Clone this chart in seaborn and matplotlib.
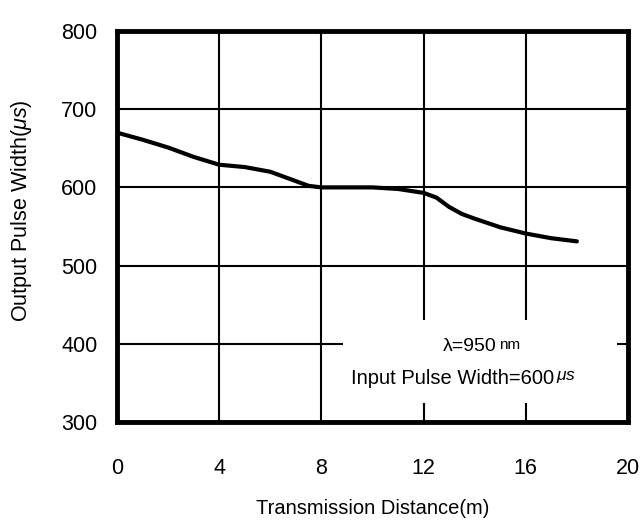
import matplotlib
matplotlib.use("Agg")
import matplotlib.pyplot as plt
from matplotlib.patches import Rectangle
import seaborn as sns
import pandas as pd

distance_m = [0, 1, 2, 3, 4, 5, 6, 7, 7.5, 8, 9, 10, 11, 12, 12.5, 13, 13.5, 14, 15, 16, 17, 18]
pulse_us = [670, 661, 651, 639, 629, 626, 620, 608, 602, 600, 600, 600, 598, 593, 587, 575, 566, 560, 549, 541, 535, 531]
x_ticks = [0, 4, 8, 12, 16, 20]
y_ticks = [300, 400, 500, 600, 700, 800]

df = pd.DataFrame({"d": distance_m, "w": pulse_us})

sns.set_style("white")
plt.rcParams["font.family"] = ["Liberation Sans", "DejaVu Sans"]
plt.rcParams["mathtext.fontset"] = "custom"
plt.rcParams["mathtext.it"] = "Liberation Sans:italic"
plt.rcParams["mathtext.rm"] = "Liberation Sans"

fig = plt.figure(figsize=(6.41, 5.27), dpi=100)
ax = fig.add_axes([117/641, 1 - 422/527, (628-117)/641, (422-31)/527])

sns.lineplot(data=df, x="d", y="w", ax=ax, color="black", linewidth=3)

ax.set_xlim(0, 20)
ax.set_ylim(300, 800)
ax.set_xticks(x_ticks)
ax.set_yticks(y_ticks)
ax.grid(True, color="black", linewidth=1.5)
for s in ax.spines.values():
    s.set_linewidth(3.5)
    s.set_color("black")
ax.tick_params(axis="both", length=0, labelsize=15.5, colors="black")
ax.tick_params(axis="x", pad=26)
ax.tick_params(axis="y", pad=14)
ax.set_xlabel("Transmission Distance(m)", fontsize=14.5, labelpad=14, color="black")
ax.set_ylabel(r"Output Pulse Width($\mu s$)", fontsize=15.5, color="black")
ax.yaxis.set_label_coords(-0.163, 0.54)

# annotation box
ax.add_patch(Rectangle((8.85, 324), 10.7, 106, facecolor="white", edgecolor="none", zorder=4))
ax.text(14.87, 396, "λ=950", fontsize=14, ha="right", va="center", color="black", zorder=6)
ax.text(14.95, 398, "nm", fontsize=11, ha="left", va="center", color="black", zorder=6)
ax.text(17.12, 356, "Input Pulse Width=600", fontsize=14.5, ha="right", va="center", color="black", zorder=6)
ax.text(17.18, 357, r"$\mu s$", fontsize=12.5, ha="left", va="center", color="black", zorder=6)

fig.savefig("out.png", dpi=100)
